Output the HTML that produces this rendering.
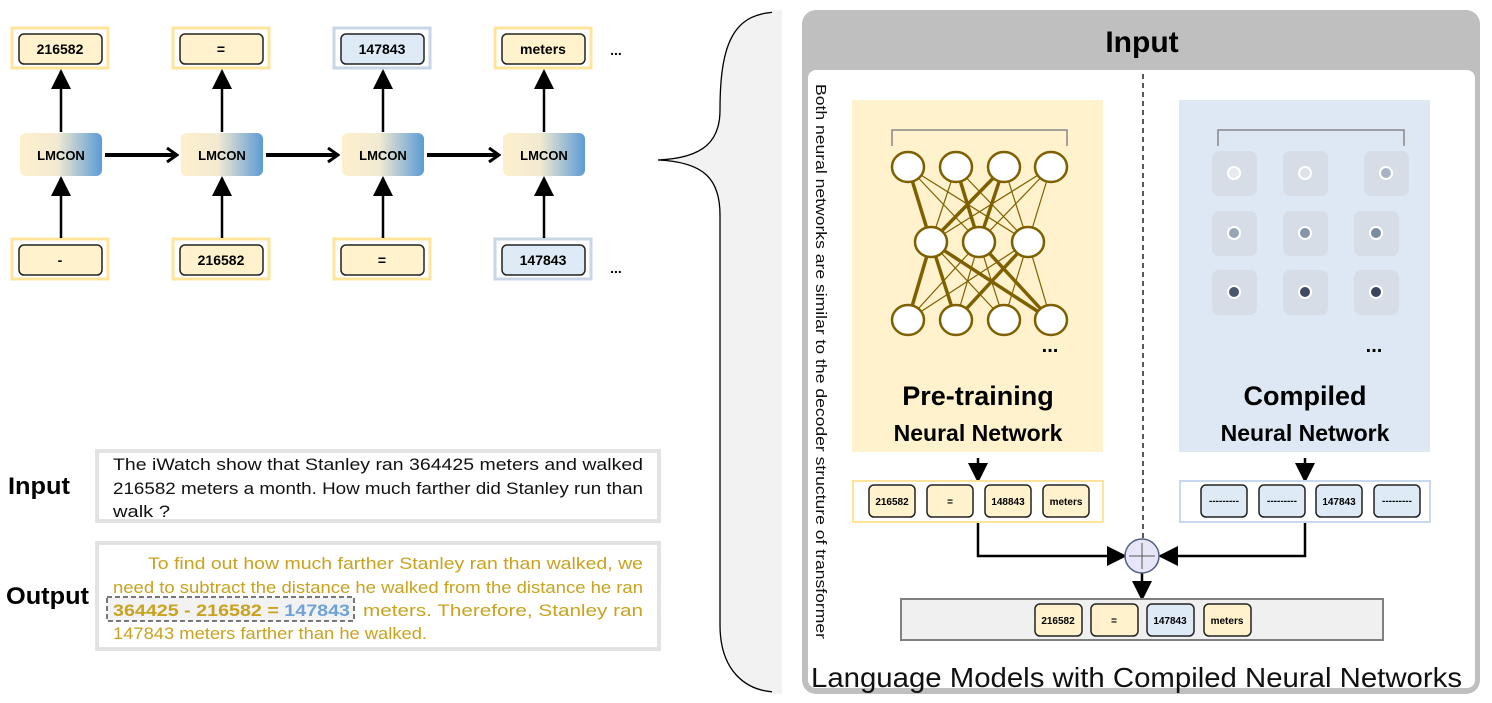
<!DOCTYPE html>
<html><head><meta charset="utf-8"><style>
body{margin:0;background:#fff;}
svg{display:block;font-family:"Liberation Sans",sans-serif;}
</style></head><body>
<svg width="1492" height="703" viewBox="0 0 1492 703" xmlns="http://www.w3.org/2000/svg">
<defs>
<linearGradient id="lg" x1="0" x2="1" y1="0" y2="0">
<stop offset="0" stop-color="#fdf0cc"/><stop offset="0.45" stop-color="#f3ead2"/><stop offset="1" stop-color="#5b9bd5"/>
</linearGradient>
<marker id="ah2" markerWidth="20" markerHeight="20" refX="18" refY="10" orient="auto" markerUnits="userSpaceOnUse"><path d="M0,0 L20,10 L0,20z" fill="#000"/></marker>
<marker id="op" markerWidth="14" markerHeight="16" refX="12" refY="8" orient="auto" markerUnits="userSpaceOnUse"><path d="M2,1 L12,8 L2,15" fill="none" stroke="#000" stroke-width="3"/></marker>
</defs>

<g font-weight="bold" font-size="14" text-anchor="middle">
<rect x="12" y="28" width="96" height="40" fill="#fff" stroke="#ffe49a" stroke-width="3"/>
<rect x="19" y="34" width="83" height="30" rx="5" fill="#fff2cc" stroke="#222" stroke-width="1.5"/>
<text x="60" y="54">216582</text>
<rect x="173" y="28" width="96" height="40" fill="#fff" stroke="#ffe49a" stroke-width="3"/>
<rect x="180" y="34" width="83" height="30" rx="5" fill="#fff2cc" stroke="#222" stroke-width="1.5"/>
<text x="221" y="54">=</text>
<rect x="334" y="28" width="96" height="40" fill="#fff" stroke="#c9d6e6" stroke-width="3"/>
<rect x="341" y="34" width="83" height="30" rx="5" fill="#deebf7" stroke="#222" stroke-width="1.5"/>
<text x="382" y="54">147843</text>
<rect x="495" y="28" width="96" height="40" fill="#fff" stroke="#ffe49a" stroke-width="3"/>
<rect x="502" y="34" width="83" height="30" rx="5" fill="#fff2cc" stroke="#222" stroke-width="1.5"/>
<text x="543" y="54">meters</text>
<text x="616" y="55">...</text>
<rect x="20" y="133" width="82" height="43" rx="6" fill="url(#lg)"/>
<rect x="181" y="133" width="82" height="43" rx="6" fill="url(#lg)"/>
<rect x="342" y="133" width="82" height="43" rx="6" fill="url(#lg)"/>
<rect x="503" y="133" width="82" height="43" rx="6" fill="url(#lg)"/>
<g font-size="13"><text x="61" y="160">LMCON</text><text x="222" y="160">LMCON</text><text x="383" y="160">LMCON</text><text x="544" y="160">LMCON</text></g>
<rect x="12" y="239" width="96" height="40" fill="#fff" stroke="#ffe49a" stroke-width="3"/>
<rect x="19" y="245" width="83" height="30" rx="5" fill="#fff2cc" stroke="#222" stroke-width="1.5"/>
<text x="60" y="265">-</text>
<rect x="173" y="239" width="96" height="40" fill="#fff" stroke="#ffe49a" stroke-width="3"/>
<rect x="180" y="245" width="83" height="30" rx="5" fill="#fff2cc" stroke="#222" stroke-width="1.5"/>
<text x="221" y="265">216582</text>
<rect x="334" y="239" width="96" height="40" fill="#fff" stroke="#ffe49a" stroke-width="3"/>
<rect x="341" y="245" width="83" height="30" rx="5" fill="#fff2cc" stroke="#222" stroke-width="1.5"/>
<text x="382" y="265">=</text>
<rect x="495" y="239" width="96" height="40" fill="#fff" stroke="#c9d6e6" stroke-width="3"/>
<rect x="502" y="245" width="83" height="30" rx="5" fill="#deebf7" stroke="#222" stroke-width="1.5"/>
<text x="543" y="265">147843</text>
<text x="616" y="273">...</text>
</g>
<g stroke="#000" stroke-width="2.5" fill="none">
<line x1="61" y1="132" x2="61" y2="71" marker-end="url(#ah2)"/>
<line x1="222" y1="132" x2="222" y2="71" marker-end="url(#ah2)"/>
<line x1="383" y1="132" x2="383" y2="71" marker-end="url(#ah2)"/>
<line x1="544" y1="132" x2="544" y2="71" marker-end="url(#ah2)"/>
<line x1="61" y1="238" x2="61" y2="178" marker-end="url(#ah2)"/>
<line x1="222" y1="238" x2="222" y2="178" marker-end="url(#ah2)"/>
<line x1="383" y1="238" x2="383" y2="178" marker-end="url(#ah2)"/>
<line x1="544" y1="238" x2="544" y2="178" marker-end="url(#ah2)"/>
<g stroke-width="4">
<line x1="105" y1="155" x2="177" y2="155" marker-end="url(#op)"/>
<line x1="266" y1="155" x2="338" y2="155" marker-end="url(#op)"/>
<line x1="427" y1="155" x2="499" y2="155" marker-end="url(#op)"/>
</g>
</g>

<text x="8" y="494" font-size="24" font-weight="bold" textLength="62" lengthAdjust="spacingAndGlyphs">Input</text>
<text x="6" y="604" font-size="24" font-weight="bold" textLength="83" lengthAdjust="spacingAndGlyphs">Output</text>
<rect x="97" y="451" width="562" height="70" fill="#fff" stroke="#e3e3e3" stroke-width="4"/>
<g font-size="17" fill="#111" lengthAdjust="spacingAndGlyphs">
<text x="113" y="470" textLength="530" lengthAdjust="spacingAndGlyphs">The iWatch show that Stanley ran 364425 meters and walked</text>
<text x="113" y="494" textLength="530" lengthAdjust="spacingAndGlyphs">216582 meters a month. How much farther did Stanley run than</text>
<text x="113" y="517" textLength="57" lengthAdjust="spacingAndGlyphs">walk ?</text>
</g>
<rect x="97" y="543" width="562" height="106" fill="#fff" stroke="#e3e3e3" stroke-width="4"/>
<rect x="107" y="597" width="247" height="24" fill="#f2f2f2" stroke="#777" stroke-width="2" stroke-dasharray="5,3"/>
<g font-size="17" fill="#c9a21e">
<text x="148" y="569" textLength="495" lengthAdjust="spacingAndGlyphs">To find out how much farther Stanley ran than walked, we</text>
<text x="113" y="593" textLength="530" lengthAdjust="spacingAndGlyphs">need to subtract the distance he walked from the distance he ran</text>
<text x="113" y="616" font-weight="bold" textLength="237" lengthAdjust="spacingAndGlyphs">364425 - 216582 = <tspan fill="#6fa3d6">147843</tspan></text>
<text x="363" y="616" textLength="280" lengthAdjust="spacingAndGlyphs">meters. Therefore, Stanley ran</text>
<text x="113" y="639" textLength="314" lengthAdjust="spacingAndGlyphs">147843 meters farther than he walked.</text>
</g>

<path d="M780,12 C735,12 720,40 720,110 C720,140 705,158 658,160 C705,162 720,180 720,215 L720,625 C720,670 745,692 778,692 Z" fill="#f2f2f2" stroke="none"/>
<path d="M780,12 C735,12 720,40 720,110 C720,140 705,158 658,160 C705,162 720,180 720,215 L720,625 C720,670 745,692 778,692" fill="none" stroke="#000" stroke-width="1.3"/>
<rect x="772" y="10" width="10" height="684" fill="#f2f2f2"/>

<rect x="802" y="10" width="678" height="684" rx="14" fill="#bfbfbf"/>
<rect x="808" y="70" width="667" height="618" rx="8" fill="#fff"/>
<text x="1142" y="52" font-size="30" font-weight="bold" text-anchor="middle">Input</text>
<text transform="translate(816,84) rotate(90)" font-size="14.5" fill="#111" textLength="555" lengthAdjust="spacingAndGlyphs">Both neural networks are similar to the decoder structure of transformer</text>
<line x1="1143" y1="74" x2="1143" y2="540" stroke="#000" stroke-width="1.3" stroke-dasharray="5,4"/>

<rect x="852" y="100" width="251" height="352" fill="#fff2cc"/>
<rect x="1179" y="100" width="251" height="352" fill="#dde8f4"/>

<path d="M892,146 V130 H1067 V146" fill="none" stroke="#888" stroke-width="1.5"/>
<g stroke="#7f6000" fill="none">
<g stroke-width="1.2">
<path d="M908,167 L1028,242 M956,167 L931,242 M956,167 L1028,242 M1004,167 L1028,242 M1051,167 L931,242 M1051,167 L979,242 M1051,167 L1028,242 M908,167 L979,242 M1004,167 L979,242"/>
<path d="M931,242 L956,320 M931,242 L1004,320 M979,242 L908,320 M979,242 L956,320 M979,242 L1004,320 M979,242 L1051,320 M1028,242 L908,320 M1028,242 L1004,320 M1028,242 L1051,320 M931,242 L1051,320"/>
</g>
<g stroke-width="3.5">
<path d="M908,167 L931,242 M1004,167 L931,242 M1004,167 L979,242 M956,167 L979,242"/>
<path d="M931,242 L908,320 M931,242 L956,320 M931,242 L1051,320 M1028,242 L956,320 M979,242 L1051,320"/>
</g>
</g>
<g fill="#fff" stroke="#7f6000" stroke-width="2.5">
<ellipse cx="908" cy="167" rx="16" ry="15"/><ellipse cx="956" cy="167" rx="16" ry="15"/><ellipse cx="1004" cy="167" rx="16" ry="15"/><ellipse cx="1051" cy="167" rx="16" ry="15"/>
<ellipse cx="931" cy="242" rx="16" ry="15"/><ellipse cx="979" cy="242" rx="16" ry="15"/><ellipse cx="1028" cy="242" rx="16" ry="15"/>
<ellipse cx="908" cy="320" rx="16" ry="15"/><ellipse cx="956" cy="320" rx="16" ry="15"/><ellipse cx="1004" cy="320" rx="16" ry="15"/><ellipse cx="1051" cy="320" rx="16" ry="15"/>
</g>
<text x="1050" y="352" font-size="20" font-weight="bold" text-anchor="middle">...</text>
<text x="978" y="405" font-size="27" font-weight="bold" text-anchor="middle">Pre-training</text>
<text x="978" y="441" font-size="23" font-weight="bold" text-anchor="middle">Neural Network</text>

<path d="M1218,146 V130 H1404 V146" fill="none" stroke="#888" stroke-width="1.5"/>
<g fill="#d6dde7">
<rect x="1212" y="151" width="45" height="45" rx="7"/><rect x="1283" y="151" width="45" height="45" rx="7"/><rect x="1364" y="151" width="45" height="45" rx="7"/>
<rect x="1212" y="211" width="45" height="45" rx="7"/><rect x="1283" y="211" width="45" height="45" rx="7"/><rect x="1354" y="211" width="45" height="45" rx="7"/>
<rect x="1212" y="270" width="45" height="45" rx="7"/><rect x="1283" y="270" width="45" height="45" rx="7"/><rect x="1354" y="270" width="45" height="45" rx="7"/>
</g>
<g stroke="#fff" stroke-width="2">
<circle cx="1234" cy="173" r="6" fill="#e6e9ee"/><circle cx="1305" cy="173" r="6" fill="#dde3ea"/><circle cx="1386" cy="173" r="6" fill="#a9b3c4"/>
<circle cx="1234" cy="233" r="6" fill="#98a5b8"/><circle cx="1305" cy="233" r="6" fill="#8596ac"/><circle cx="1376" cy="233" r="6" fill="#7c8ca4"/>
<circle cx="1234" cy="292" r="6" fill="#4a5670"/><circle cx="1305" cy="292" r="6" fill="#3f4a63"/><circle cx="1376" cy="292" r="6" fill="#3a445c"/>
</g>
<text x="1374" y="352" font-size="20" font-weight="bold" text-anchor="middle">...</text>
<text x="1305" y="405" font-size="27" font-weight="bold" text-anchor="middle">Compiled</text>
<text x="1305" y="441" font-size="23" font-weight="bold" text-anchor="middle">Neural Network</text>

<g stroke="#000" stroke-width="2.5" fill="none">
<line x1="978" y1="458" x2="978" y2="481" marker-end="url(#ah2)"/>
<line x1="1305" y1="458" x2="1305" y2="481" marker-end="url(#ah2)"/>
<path d="M978,522 V556 H1125" marker-end="url(#ah2)"/>
<path d="M1305,522 V556 H1160" marker-end="url(#ah2)"/>
<line x1="1142" y1="573" x2="1142" y2="599" marker-end="url(#ah2)"/>
</g>
<rect x="853" y="481" width="250" height="41" fill="#fff" stroke="#ffe49a" stroke-width="2"/>
<rect x="1180" y="481" width="250" height="41" fill="#fff" stroke="#c7d9ee" stroke-width="2"/>
<g stroke="#222" stroke-width="1.5">
<rect x="869" y="485" width="46" height="32" rx="5" fill="#fff2cc"/><rect x="927" y="485" width="46" height="32" rx="5" fill="#fff2cc"/><rect x="985" y="485" width="46" height="32" rx="5" fill="#fff2cc"/><rect x="1043" y="485" width="46" height="32" rx="5" fill="#fff2cc"/>
<rect x="1201" y="485" width="46" height="32" rx="5" fill="#deebf7"/><rect x="1259" y="485" width="46" height="32" rx="5" fill="#deebf7"/><rect x="1316" y="485" width="46" height="32" rx="5" fill="#deebf7"/><rect x="1374" y="485" width="46" height="32" rx="5" fill="#deebf7"/>
</g>
<g font-size="10" font-weight="bold" text-anchor="middle">
<text x="892" y="505">216582</text><text x="950" y="505">=</text><text x="1008" y="505">148843</text><text x="1066" y="505">meters</text>
<text x="1224" y="504">---------</text><text x="1282" y="504">---------</text><text x="1339" y="505">147843</text><text x="1397" y="504">---------</text>
</g>
<circle cx="1142" cy="556" r="17" fill="#e6e6f8" stroke="#4f5f80" stroke-width="1.5"/>
<path d="M1129,556 H1155 M1142,543 V569" stroke="#555" stroke-width="1"/>

<rect x="901" y="599" width="482" height="41" fill="#f0f0f0" stroke="#808080" stroke-width="2"/>
<g stroke="#222" stroke-width="1.5">
<rect x="1035" y="604" width="47" height="32" rx="5" fill="#fff2cc"/><rect x="1091" y="604" width="47" height="32" rx="5" fill="#fff2cc"/><rect x="1147" y="604" width="47" height="32" rx="5" fill="#deebf7"/><rect x="1204" y="604" width="47" height="32" rx="5" fill="#fff2cc"/>
</g>
<g font-size="10" font-weight="bold" text-anchor="middle">
<text x="1058" y="624">216582</text><text x="1114" y="624">=</text><text x="1170" y="624">147843</text><text x="1227" y="624">meters</text>
</g>
<text x="811" y="687" font-size="28" fill="#111" textLength="651" lengthAdjust="spacingAndGlyphs">Language Models with Compiled Neural Networks</text>
</svg>
</body></html>
